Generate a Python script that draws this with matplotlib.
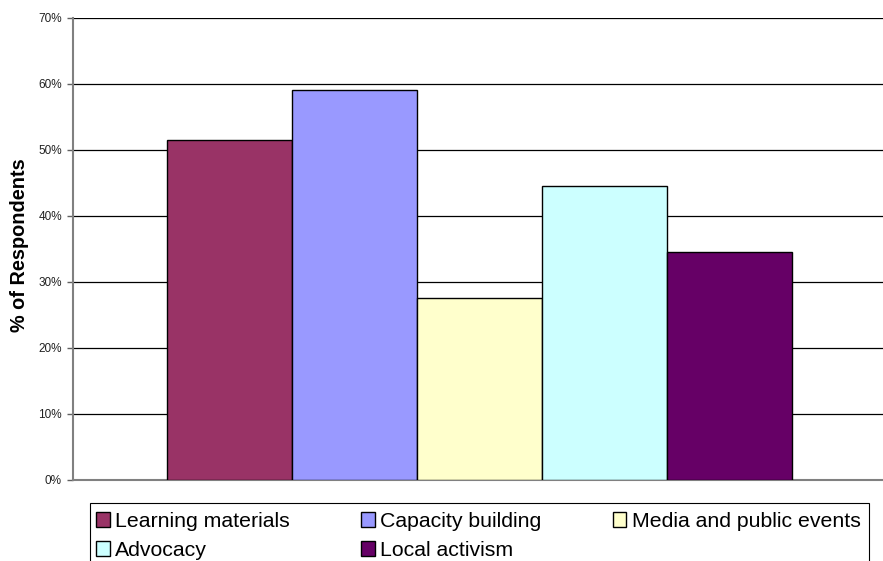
import matplotlib
matplotlib.use("Agg")
import matplotlib.pyplot as plt
from matplotlib.patches import Patch, Rectangle
from matplotlib.ticker import PercentFormatter

plt.rcParams['font.family'] = ['Liberation Sans', 'DejaVu Sans']

categories = ["Learning materials", "Capacity building", "Media and public events",
              "Advocacy", "Local activism"]
values = [51.5, 59.1, 27.6, 44.6, 34.6]
colors = ["#993366", "#9999FF", "#FFFFCC", "#CCFFFF", "#660066"]
yticks = [0, 10, 20, 30, 40, 50, 60, 70]

W, H = 883, 561
fig = plt.figure(figsize=(W / 100, H / 100), dpi=100)
ax = fig.add_axes([73 / W, 1 - 480 / H, 1 - 73 / W, (480 - 18) / H])

# one cluster of bars centred in the single category slot
bar_w = 125 / 810
start = 94 / 810
for i, (v, c) in enumerate(zip(values, colors)):
    ax.bar(start + i * bar_w, v, width=bar_w, align='edge', color=c,
           edgecolor='black', linewidth=1.0, zorder=3)

ax.set_xlim(0, 1)
ax.set_ylim(0, 70)
ax.set_yticks(yticks)
ax.yaxis.set_major_formatter(PercentFormatter(decimals=0))
ax.set_xticks([])
ax.grid(axis='y', color='black', linewidth=0.9, zorder=0)
ax.set_axisbelow(True)
for s in ['top', 'right']:
    ax.spines[s].set_visible(False)
for s in ['left', 'bottom']:
    ax.spines[s].set_color('#808080')
    ax.spines[s].set_linewidth(1.5)
ax.tick_params(axis='y', length=4, width=1, color='#606060', labelsize=8.5,
               labelcolor='#222222', pad=4)
ax.set_ylabel("% of Respondents", fontsize=14.3, fontweight='bold')
ax.yaxis.set_label_coords(-(73 - 29) / 810, (480 - 245) / 462)

# legend entries laid out row by row: matplotlib fills columns first
handles = [Patch(facecolor=c, edgecolor='black', linewidth=1.0, label=l)
           for l, c in zip(categories, colors)]
order = [0, 3, 1, 4, 2]
leg = fig.legend([handles[i] for i in order], [categories[i] for i in order],
                 loc='upper left', bbox_to_anchor=(96 / W, 1 - 512 / H),
                 ncol=3, fontsize=15.3, frameon=False,
                 handlelength=0.65, handleheight=0.65,
                 handletextpad=0.25, columnspacing=3.35, labelspacing=0.47,
                 borderpad=0, borderaxespad=0)

# legend box, running off the bottom edge of the figure
fig.patches.append(Rectangle((90 / W, -0.02), (869 - 90) / W, 0.02 + (H - 503) / H,
                             transform=fig.transFigure, fill=False,
                             edgecolor='black', linewidth=0.8))

fig.savefig("out.png", dpi=100)
